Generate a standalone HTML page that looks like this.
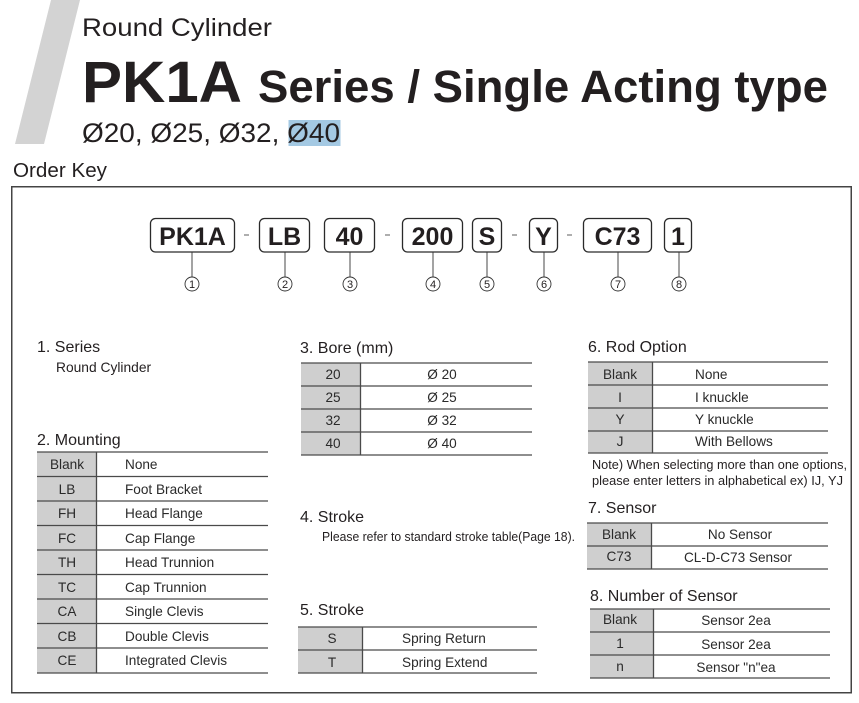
<!DOCTYPE html>
<html><head><meta charset="utf-8"><style>
html,body{margin:0;padding:0;background:#fff;}
svg{display:block;}
text{font-family:"Liberation Sans",Arial,sans-serif;fill:#231f20;}
.h{font-size:16px;}
.t{font-size:13.6px;fill:#2a2a2a;}
.c{text-anchor:middle;}
.k{font-size:25px;font-weight:bold;text-anchor:middle;}
.n{font-size:11px;text-anchor:middle;}
</style></head><body>
<svg width="859" height="703" viewBox="0 0 859 703" xmlns="http://www.w3.org/2000/svg">
<rect width="859" height="703" fill="#fff"/>
<polygon points="51,0 80,0 44,144 15,144" fill="#d3d3d3"/>
<text x="82" y="36" font-size="25" textLength="190" lengthAdjust="spacingAndGlyphs">Round Cylinder</text>
<text x="82" y="102" font-size="58" font-weight="bold" textLength="160" lengthAdjust="spacingAndGlyphs">PK1A</text>
<text x="258" y="102" font-size="45" font-weight="bold" textLength="570" lengthAdjust="spacingAndGlyphs">Series / Single Acting type</text>
<rect x="288.5" y="120" width="52" height="26" fill="#a4c9e3"/>
<text x="82" y="142" font-size="27" textLength="258" lengthAdjust="spacingAndGlyphs">Ø20, Ø25, Ø32, Ø40</text>
<text x="13" y="177" font-size="20" textLength="94" lengthAdjust="spacingAndGlyphs">Order Key</text>
<rect x="11.75" y="186.75" width="839.5" height="506" fill="none" stroke="#444" stroke-width="1.5"/>

<!-- order key boxes -->
<g fill="#fff" stroke="#2a2a2a" stroke-width="1.3">
<rect x="150.5" y="218.5" width="84" height="33.5" rx="5"/>
<rect x="259.5" y="218.5" width="50" height="33.5" rx="5"/>
<rect x="324.5" y="218.5" width="50" height="33.5" rx="5"/>
<rect x="402.5" y="218.5" width="60" height="33.5" rx="5"/>
<rect x="472.5" y="218.5" width="29" height="33.5" rx="5"/>
<rect x="529.5" y="218.5" width="28" height="33.5" rx="5"/>
<rect x="583.5" y="218.5" width="68" height="33.5" rx="5"/>
<rect x="664.5" y="218.5" width="27" height="33.5" rx="5"/>
</g>
<text class="k" x="192.5" y="245">PK1A</text>
<text class="k" x="284.5" y="245">LB</text>
<text class="k" x="349.5" y="245">40</text>
<text class="k" x="432.5" y="245">200</text>
<text class="k" x="487" y="245">S</text>
<text class="k" x="543.5" y="245">Y</text>
<text class="k" x="617.5" y="245">C73</text>
<text class="k" x="678" y="245">1</text>
<g stroke="#777" stroke-width="1.2">
<line x1="244" y1="235" x2="249" y2="235"/>
<line x1="385" y1="235" x2="390" y2="235"/>
<line x1="512" y1="235" x2="517" y2="235"/>
<line x1="567" y1="235" x2="572" y2="235"/>
</g>
<g stroke="#333" stroke-width="0.9" fill="none">
<line x1="192" y1="252" x2="192" y2="277"/><circle cx="192" cy="284" r="7"/>
<line x1="285" y1="252" x2="285" y2="277"/><circle cx="285" cy="284" r="7"/>
<line x1="350" y1="252" x2="350" y2="277"/><circle cx="350" cy="284" r="7"/>
<line x1="433" y1="252" x2="433" y2="277"/><circle cx="433" cy="284" r="7"/>
<line x1="487" y1="252" x2="487" y2="277"/><circle cx="487" cy="284" r="7"/>
<line x1="544" y1="252" x2="544" y2="277"/><circle cx="544" cy="284" r="7"/>
<line x1="618" y1="252" x2="618" y2="277"/><circle cx="618" cy="284" r="7"/>
<line x1="679" y1="252" x2="679" y2="277"/><circle cx="679" cy="284" r="7"/>
</g>
<text class="n" x="192" y="288">1</text>
<text class="n" x="285" y="288">2</text>
<text class="n" x="350" y="288">3</text>
<text class="n" x="433" y="288">4</text>
<text class="n" x="487" y="288">5</text>
<text class="n" x="544" y="288">6</text>
<text class="n" x="618" y="288">7</text>
<text class="n" x="679" y="288">8</text>

<!-- 1. Series -->
<text class="h" x="37" y="352">1. Series</text>
<text x="56" y="372" font-size="13.8">Round Cylinder</text>

<!-- 2. Mounting -->
<text class="h" x="37" y="445">2. Mounting</text>
<rect x="37" y="452" width="59" height="221" fill="#cfcfcf"/>
<g stroke="#4a4a4a" stroke-width="1.3">
<line x1="37" y1="452" x2="268" y2="452"/>
<line x1="37" y1="476.5" x2="268" y2="476.5"/>
<line x1="37" y1="501" x2="268" y2="501"/>
<line x1="37" y1="525.5" x2="268" y2="525.5"/>
<line x1="37" y1="550" x2="268" y2="550"/>
<line x1="37" y1="574.5" x2="268" y2="574.5"/>
<line x1="37" y1="599" x2="268" y2="599"/>
<line x1="37" y1="623.5" x2="268" y2="623.5"/>
<line x1="37" y1="648" x2="268" y2="648"/>
<line x1="37" y1="673" x2="268" y2="673"/>
<line x1="96.5" y1="452" x2="96.5" y2="673"/>
</g>
<g class="t">
<text class="t c" x="67" y="469">Blank</text><text class="t" x="125" y="469">None</text>
<text class="t c" x="67" y="494">LB</text><text class="t" x="125" y="494">Foot Bracket</text>
<text class="t c" x="67" y="518">FH</text><text class="t" x="125" y="518">Head Flange</text>
<text class="t c" x="67" y="543">FC</text><text class="t" x="125" y="543">Cap Flange</text>
<text class="t c" x="67" y="567">TH</text><text class="t" x="125" y="567">Head Trunnion</text>
<text class="t c" x="67" y="592">TC</text><text class="t" x="125" y="592">Cap Trunnion</text>
<text class="t c" x="67" y="616">CA</text><text class="t" x="125" y="616">Single Clevis</text>
<text class="t c" x="67" y="641">CB</text><text class="t" x="125" y="641">Double Clevis</text>
<text class="t c" x="67" y="665">CE</text><text class="t" x="125" y="665">Integrated Clevis</text>
</g>

<!-- 3. Bore -->
<text class="h" x="300" y="353">3. Bore (mm)</text>
<rect x="301" y="363" width="59" height="92" fill="#cfcfcf"/>
<g stroke="#4a4a4a" stroke-width="1.3">
<line x1="301" y1="363" x2="532" y2="363"/>
<line x1="301" y1="386" x2="532" y2="386"/>
<line x1="301" y1="409" x2="532" y2="409"/>
<line x1="301" y1="432" x2="532" y2="432"/>
<line x1="301" y1="455" x2="532" y2="455"/>
<line x1="360.5" y1="363" x2="360.5" y2="455"/>
</g>
<text class="t c" x="333" y="379">20</text><text class="t c" x="442" y="379">Ø 20</text>
<text class="t c" x="333" y="402">25</text><text class="t c" x="442" y="402">Ø 25</text>
<text class="t c" x="333" y="425">32</text><text class="t c" x="442" y="425">Ø 32</text>
<text class="t c" x="333" y="448">40</text><text class="t c" x="442" y="448">Ø 40</text>

<!-- 4. Stroke -->
<text class="h" x="300" y="522">4. Stroke</text>
<text x="322" y="541" font-size="13" textLength="253" lengthAdjust="spacingAndGlyphs" fill="#2a2a2a">Please refer to standard stroke table(Page 18).</text>

<!-- 5. Stroke -->
<text class="h" x="300" y="615">5. Stroke</text>
<rect x="298" y="627" width="64" height="46" fill="#cfcfcf"/>
<g stroke="#4a4a4a" stroke-width="1.3">
<line x1="298" y1="627" x2="537" y2="627"/>
<line x1="298" y1="650" x2="537" y2="650"/>
<line x1="298" y1="673" x2="537" y2="673"/>
<line x1="362.5" y1="627" x2="362.5" y2="673"/>
</g>
<text class="t c" x="332" y="643">S</text><text class="t" x="402" y="643">Spring Return</text>
<text class="t c" x="332" y="667">T</text><text class="t" x="402" y="667">Spring Extend</text>

<!-- 6. Rod Option -->
<text class="h" x="588" y="352">6. Rod Option</text>
<rect x="588" y="362" width="64" height="91" fill="#cfcfcf"/>
<g stroke="#4a4a4a" stroke-width="1.3">
<line x1="588" y1="362" x2="828" y2="362"/>
<line x1="588" y1="385" x2="828" y2="385"/>
<line x1="588" y1="408" x2="828" y2="408"/>
<line x1="588" y1="431" x2="828" y2="431"/>
<line x1="588" y1="453" x2="828" y2="453"/>
<line x1="652.5" y1="362" x2="652.5" y2="453"/>
</g>
<text class="t c" x="620" y="379">Blank</text><text class="t" x="695" y="379">None</text>
<text class="t c" x="620" y="402">I</text><text class="t" x="695" y="402">I knuckle</text>
<text class="t c" x="620" y="424">Y</text><text class="t" x="695" y="424">Y knuckle</text>
<text class="t c" x="620" y="446">J</text><text class="t" x="695" y="446">With Bellows</text>
<text x="592" y="469" font-size="12.6" textLength="255" lengthAdjust="spacingAndGlyphs" fill="#2a2a2a">Note) When selecting more than one options,</text>
<text x="592" y="485" font-size="12.6" textLength="251" lengthAdjust="spacingAndGlyphs" fill="#2a2a2a">please enter letters in alphabetical ex) IJ, YJ</text>

<!-- 7. Sensor -->
<text class="h" x="588" y="513">7. Sensor</text>
<rect x="587" y="523" width="64" height="46" fill="#cfcfcf"/>
<g stroke="#4a4a4a" stroke-width="1.3">
<line x1="587" y1="523" x2="828" y2="523"/>
<line x1="587" y1="546" x2="828" y2="546"/>
<line x1="587" y1="569" x2="828" y2="569"/>
<line x1="651.5" y1="523" x2="651.5" y2="569"/>
</g>
<text class="t c" x="619" y="539">Blank</text><text class="t c" x="740" y="539">No Sensor</text>
<text class="t c" x="619" y="561">C73</text><text class="t c" x="738" y="562">CL-D-C73 Sensor</text>

<!-- 8. Number of Sensor -->
<text class="h" x="590" y="601">8. Number of Sensor</text>
<rect x="590" y="609" width="63" height="69" fill="#cfcfcf"/>
<g stroke="#4a4a4a" stroke-width="1.3">
<line x1="590" y1="609" x2="830" y2="609"/>
<line x1="590" y1="632" x2="830" y2="632"/>
<line x1="590" y1="655" x2="830" y2="655"/>
<line x1="590" y1="678" x2="830" y2="678"/>
<line x1="653.5" y1="609" x2="653.5" y2="678"/>
</g>
<text class="t c" x="620" y="624">Blank</text><text class="t c" x="736" y="625">Sensor 2ea</text>
<text class="t c" x="620" y="648">1</text><text class="t c" x="736" y="649">Sensor 2ea</text>
<text class="t c" x="620" y="671">n</text><text class="t c" x="736" y="672">Sensor "n"ea</text>
</svg>
</body></html>
